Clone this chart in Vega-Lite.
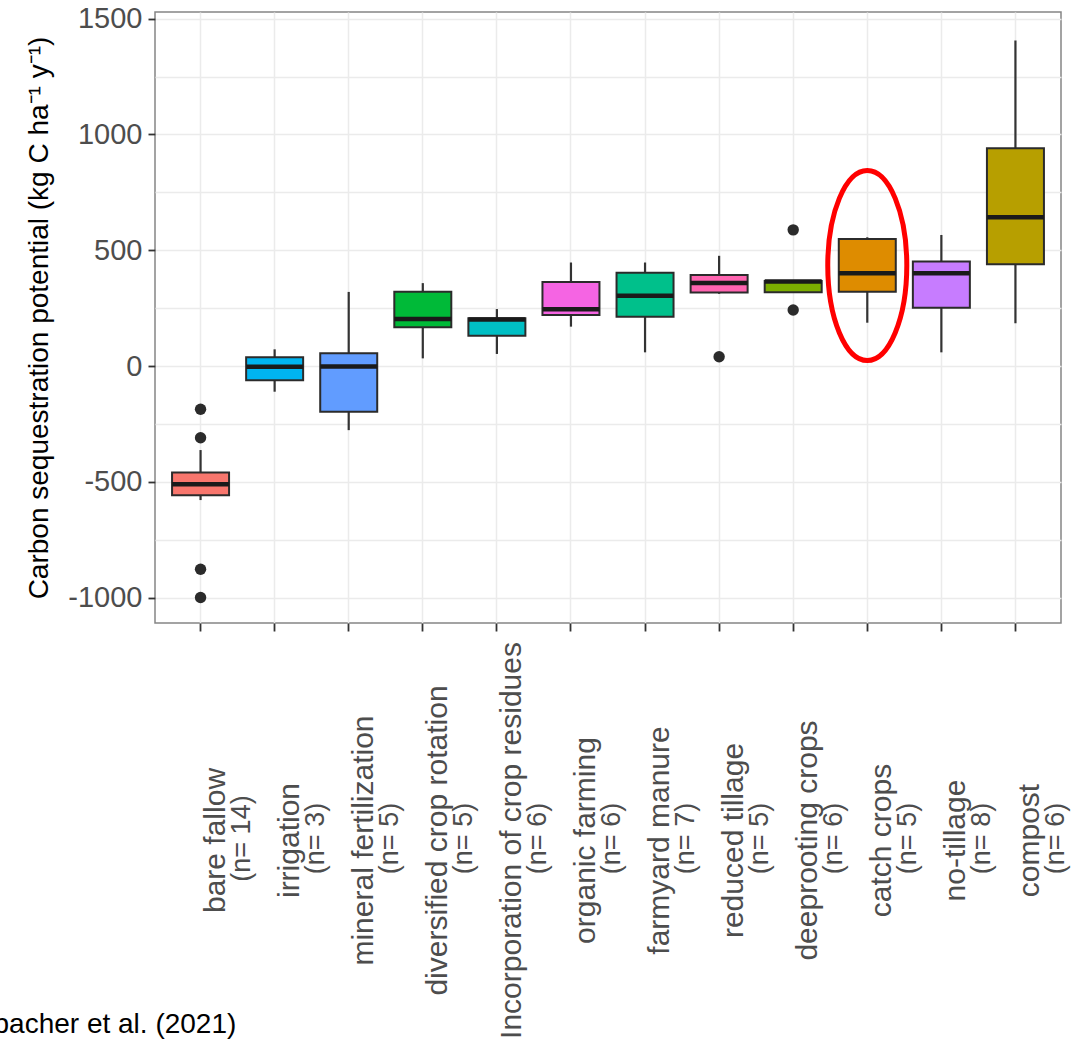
{
  "$schema": "https://vega.github.io/schema/vega-lite/v6.json",
  "autosize": {"type": "none"},
  "width": 906,
  "height": 611,
  "padding": {"left": 155, "top": 12, "right": 12, "bottom": 418},
  "background": "white",
  "config": {
    "font": "Liberation Sans",
    "view": {"stroke": "#858585", "strokeWidth": 1.5},
    "axis": {"domain": false}
  },
  "datasets": {
    "boxes": [
      {"method": "bare fallow|(n= 14)", "lo": -579, "q1": -558, "med": -511, "q3": -460, "hi": -363},
      {"method": "irrigation|(n= 3)", "lo": -111, "q1": -61, "med": -3, "q3": 38, "hi": 72},
      {"method": "mineral fertilization|(n= 5)", "lo": -277, "q1": -198, "med": -2, "q3": 55, "hi": 320},
      {"method": "diversified crop rotation|(n= 5)", "lo": 33, "q1": 167, "med": 203, "q3": 321, "hi": 358},
      {"method": "Incorporation of crop residues|(n= 6)", "lo": 52, "q1": 131, "med": 201, "q3": 206, "hi": 246},
      {"method": "organic farming|(n= 6)", "lo": 170, "q1": 220, "med": 245, "q3": 363, "hi": 447},
      {"method": "farmyard manure|(n= 7)", "lo": 59, "q1": 213, "med": 303, "q3": 403, "hi": 447},
      {"method": "reduced tillage|(n= 5)", "lo": 312, "q1": 317, "med": 358, "q3": 393, "hi": 476},
      {"method": "deeprooting crops|(n= 6)", "lo": 319, "q1": 319, "med": 365, "q3": 367, "hi": 367},
      {"method": "catch crops|(n= 5)", "lo": 187, "q1": 321, "med": 401, "q3": 549, "hi": 556},
      {"method": "no-tillage|(n= 8)", "lo": 59, "q1": 252, "med": 401, "q3": 451, "hi": 566},
      {"method": "compost|(n= 6)", "lo": 185, "q1": 440, "med": 643, "q3": 941, "hi": 1406}
    ],
    "outliers": [
      {"method": "bare fallow|(n= 14)", "value": -187},
      {"method": "bare fallow|(n= 14)", "value": -310},
      {"method": "bare fallow|(n= 14)", "value": -878},
      {"method": "bare fallow|(n= 14)", "value": -1000},
      {"method": "reduced tillage|(n= 5)", "value": 40},
      {"method": "deeprooting crops|(n= 6)", "value": 588},
      {"method": "deeprooting crops|(n= 6)", "value": 242}
    ],
    "highlight": [
      {"method": "catch crops|(n= 5)", "value": 434}
    ]
  },
  "layer": [
    {
      "data": {"name": "boxes"},
      "mark": {"type": "rule", "color": "#333333", "strokeWidth": 2.2},
      "encoding": {
        "x": {
          "field": "method", "type": "nominal",
          "scale": {"type": "band", "paddingInner": 0, "paddingOuter": 0.115,
            "domain": ["bare fallow|(n= 14)", "irrigation|(n= 3)", "mineral fertilization|(n= 5)", "diversified crop rotation|(n= 5)", "Incorporation of crop residues|(n= 6)", "organic farming|(n= 6)", "farmyard manure|(n= 7)", "reduced tillage|(n= 5)", "deeprooting crops|(n= 6)", "catch crops|(n= 5)", "no-tillage|(n= 8)", "compost|(n= 6)"]},
          "axis": {
            "orient": "bottom",
            "labelExpr": "split(datum.value, '|')[0]",
            "labelAngle": 270, "labelAlign": "center", "labelBaseline": "top",
            "labelFontSize": 30, "labelColor": "#4d4d4d", "labelPadding": 209,
            "labelLimit": 0, "labelOverlap": false, "labelBound": false,
            "ticks": true, "tickSize": 8, "tickColor": "#333333", "tickWidth": 1.8,
            "grid": true, "gridColor": "#ebebeb", "gridWidth": 1.5,
            "title": "bacher et al. (2021)",
            "titleX": -162, "titleY": 409, "titleAngle": 0, "titleAlign": "left",
            "titleBaseline": "alphabetic", "titleFontSize": 28, "titleColor": "#000000",
            "titleFontWeight": "normal", "titleFont": "Liberation Sans"
          }
        },
        "y": {
          "field": "lo", "type": "quantitative",
          "scale": {"domain": [-1110, 1529], "nice": false, "zero": false},
          "axis": {
            "orient": "left",
            "values": [-1000, -500, 0, 500, 1000, 1500],
            "labelExpr": "'' + datum.value",
            "labelFontSize": 29, "labelColor": "#4d4d4d", "labelPadding": 6,
            "tickSize": 7, "tickColor": "#333333", "tickWidth": 1.8,
            "grid": true, "gridColor": "#ebebeb", "gridWidth": 1.5,
            "title": "Carbon sequestration potential (kg C ha⁻¹ y⁻¹)",
            "titleFontSize": 28, "titleFontWeight": "normal", "titleColor": "#000000",
            "titlePadding": 14
          }
        },
        "y2": {"field": "hi"}
      }
    },
    {
      "data": {"name": "boxes"},
      "mark": {"type": "bar", "width": 57, "stroke": "#2b2b2b", "strokeWidth": 2, "opacity": 1},
      "encoding": {
        "x": {
          "field": "method", "type": "nominal",
          "scale": {"type": "band", "paddingInner": 0, "paddingOuter": 0.115,
            "domain": ["bare fallow|(n= 14)", "irrigation|(n= 3)", "mineral fertilization|(n= 5)", "diversified crop rotation|(n= 5)", "Incorporation of crop residues|(n= 6)", "organic farming|(n= 6)", "farmyard manure|(n= 7)", "reduced tillage|(n= 5)", "deeprooting crops|(n= 6)", "catch crops|(n= 5)", "no-tillage|(n= 8)", "compost|(n= 6)"]},
          "axis": {
            "orient": "bottom",
            "labelExpr": "split(datum.value, '|')[1]",
            "labelAngle": 270, "labelAlign": "center", "labelBaseline": "top",
            "labelFontSize": 27, "labelColor": "#4d4d4d", "labelPadding": 215,
            "labelOffset": 28,
            "labelLimit": 0, "labelOverlap": false, "labelBound": false,
            "ticks": false, "grid": false, "domain": false, "title": null
          }
        },
        "y": {"field": "q1", "type": "quantitative", "scale": {"domain": [-1110, 1529], "nice": false, "zero": false},
          "axis": {
            "orient": "left",
            "values": [-750, -250, 250, 750, 1250],
            "labels": false, "ticks": false, "domain": false, "title": null,
            "grid": true, "gridColor": "#ebebeb", "gridWidth": 1.5
          }
        },
        "y2": {"field": "q3"},
        "color": {
          "field": "method", "type": "nominal", "legend": null,
          "scale": {
            "domain": ["bare fallow|(n= 14)", "irrigation|(n= 3)", "mineral fertilization|(n= 5)", "diversified crop rotation|(n= 5)", "Incorporation of crop residues|(n= 6)", "organic farming|(n= 6)", "farmyard manure|(n= 7)", "reduced tillage|(n= 5)", "deeprooting crops|(n= 6)", "catch crops|(n= 5)", "no-tillage|(n= 8)", "compost|(n= 6)"],
            "range": ["#F8766D", "#00B4F0", "#619CFF", "#00BA38", "#00BFC4", "#F564E3", "#00C08B", "#FF64B0", "#7CAE00", "#DE8C00", "#C77CFF", "#B79F00"]
          }
        }
      }
    },
    {
      "data": {"name": "boxes"},
      "mark": {"type": "tick", "size": 57, "thickness": 4.5, "color": "#1a1a1a", "opacity": 1},
      "encoding": {
        "x": {"field": "method", "type": "nominal", "axis": null,
          "scale": {"type": "band", "paddingInner": 0, "paddingOuter": 0.115,
            "domain": ["bare fallow|(n= 14)", "irrigation|(n= 3)", "mineral fertilization|(n= 5)", "diversified crop rotation|(n= 5)", "Incorporation of crop residues|(n= 6)", "organic farming|(n= 6)", "farmyard manure|(n= 7)", "reduced tillage|(n= 5)", "deeprooting crops|(n= 6)", "catch crops|(n= 5)", "no-tillage|(n= 8)", "compost|(n= 6)"]}},
        "y": {"field": "med", "type": "quantitative", "scale": {"domain": [-1110, 1529], "nice": false, "zero": false}, "axis": null}
      }
    },
    {
      "data": {"name": "outliers"},
      "mark": {"type": "point", "filled": true, "size": 130, "color": "#2b2b2b", "opacity": 1},
      "encoding": {
        "x": {"field": "method", "type": "nominal", "axis": null,
          "scale": {"type": "band", "paddingInner": 0, "paddingOuter": 0.115,
            "domain": ["bare fallow|(n= 14)", "irrigation|(n= 3)", "mineral fertilization|(n= 5)", "diversified crop rotation|(n= 5)", "Incorporation of crop residues|(n= 6)", "organic farming|(n= 6)", "farmyard manure|(n= 7)", "reduced tillage|(n= 5)", "deeprooting crops|(n= 6)", "catch crops|(n= 5)", "no-tillage|(n= 8)", "compost|(n= 6)"]}},
        "y": {"field": "value", "type": "quantitative", "scale": {"domain": [-1110, 1529], "nice": false, "zero": false}, "axis": null}
      }
    },
    {
      "mark": {"type": "rule", "color": "#000000", "strokeWidth": 1.6},
      "encoding": {
        "y": {"datum": 0, "type": "quantitative", "scale": {"domain": [-1110, 1529], "nice": false, "zero": false}, "axis": null}
      }
    },
    {
      "data": {"name": "highlight"},
      "mark": {"type": "point", "filled": false, "size": 36100, "stroke": "#ff0000", "strokeWidth": 5, "opacity": 1,
        "shape": "M -0.416 0 A 0.416 1 0 1 0 0.416 0 A 0.416 1 0 1 0 -0.416 0 Z"},
      "encoding": {
        "x": {"field": "method", "type": "nominal", "axis": null,
          "scale": {"type": "band", "paddingInner": 0, "paddingOuter": 0.115,
            "domain": ["bare fallow|(n= 14)", "irrigation|(n= 3)", "mineral fertilization|(n= 5)", "diversified crop rotation|(n= 5)", "Incorporation of crop residues|(n= 6)", "organic farming|(n= 6)", "farmyard manure|(n= 7)", "reduced tillage|(n= 5)", "deeprooting crops|(n= 6)", "catch crops|(n= 5)", "no-tillage|(n= 8)", "compost|(n= 6)"]}},
        "y": {"field": "value", "type": "quantitative", "scale": {"domain": [-1110, 1529], "nice": false, "zero": false}, "axis": null}
      }
    }
  ],
  "resolve": {"axis": {"x": "independent", "y": "independent"}}
}
